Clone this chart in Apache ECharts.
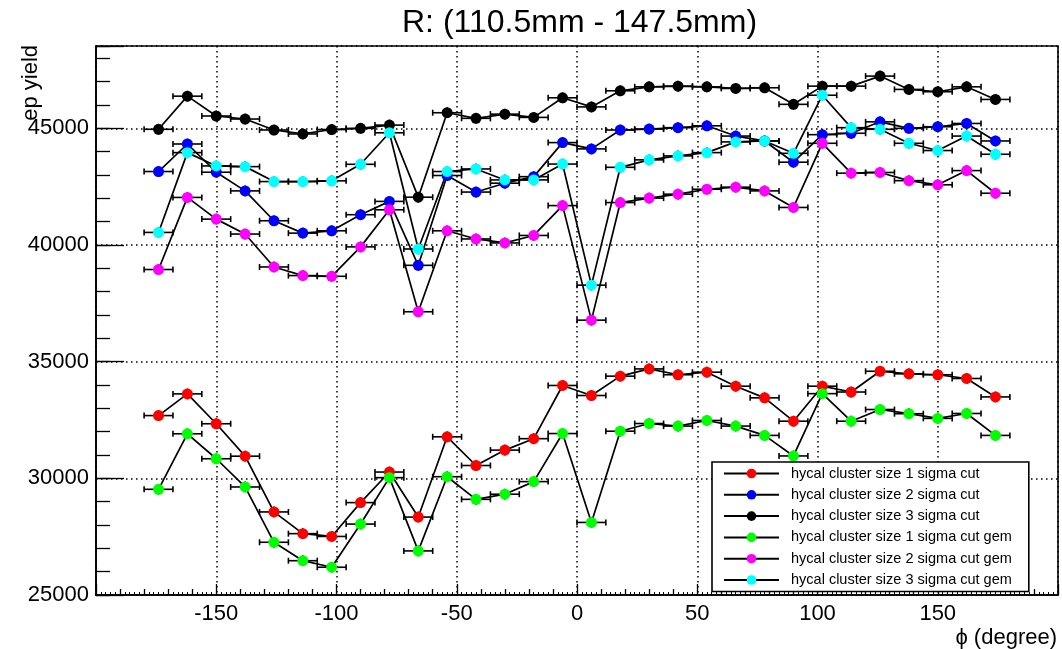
<!DOCTYPE html>
<html>
<head>
<meta charset="utf-8">
<title>ep yield vs phi</title>
<script src="https://cdn.jsdelivr.net/npm/echarts@6/dist/echarts.min.js"></script>
<style>
  html, body { margin: 0; padding: 0; background: #fff; }
  #chart { width: 1062px; height: 649px; }
</style>
</head>
<body>
<div id="chart"></div>
<script>
'use strict';

// bin centres in degrees (12 degree bins)
const phi = [-174, -162, -150, -138, -126, -114, -102, -90, -78, -66,
  -54, -42, -30, -18, -6, 6, 18, 30, 42, 54,
  66, 78, 90, 102, 114, 126, 138, 150, 162, 174];

const sizeOneCut = [32690, 33620, 32340, 30950, 28560, 27630, 27510, 28960, 30270, 28340,
  31780, 30550, 31210, 31700, 33980, 33550, 34380, 34690, 34440, 34550,
  33950, 33450, 32450, 33950, 33700, 34590, 34480, 34440, 34280, 33490];
const sizeTwoCut = [43150, 44330, 43120, 42320, 41040, 40510, 40610, 41300, 41870, 39130,
  42980, 42270, 42650, 42930, 44390, 44120, 44930, 44970, 45030, 45110,
  44670, 44460, 43550, 44730, 44790, 45280, 45000, 45070, 45210, 44460];
const sizeThreeCut = [44960, 46380, 45530, 45400, 44930, 44760, 44950, 45000, 45140, 42050,
  45670, 45430, 45610, 45470, 46310, 45920, 46610, 46780, 46810, 46780,
  46710, 46740, 46030, 46810, 46810, 47240, 46670, 46570, 46780, 46240];
const sizeOneGem = [29530, 31910, 30840, 29630, 27260, 26470, 26190, 28040, 30030, 26890,
  30070, 29100, 29320, 29860, 31920, 28110, 32020, 32350, 32240, 32480,
  32240, 31840, 30960, 33630, 32450, 32950, 32770, 32570, 32780, 31840];
const sizeTwoGem = [38950, 42040, 41110, 40470, 39060, 38690, 38660, 39920, 41510, 37140,
  40610, 40260, 40090, 40410, 41690, 36780, 41820, 42010, 42180, 42390,
  42480, 42320, 41610, 44360, 43080, 43110, 42760, 42580, 43190, 42220];
const sizeThreeGem = [40540, 43960, 43390, 43360, 42720, 42720, 42750, 43460, 44810, 39830,
  43150, 43260, 42790, 42790, 43470, 38280, 43330, 43650, 43820, 43960,
  44420, 44460, 43930, 46420, 45030, 44960, 44360, 44050, 44670, 43890];

const seriesNames = [
  'hycal cluster size 1 sigma cut',
  'hycal cluster size 2 sigma cut',
  'hycal cluster size 3 sigma cut',
  'hycal cluster size 1 sigma cut gem',
  'hycal cluster size 2 sigma cut gem',
  'hycal cluster size 3 sigma cut gem'
];
const seriesValues = [sizeOneCut, sizeTwoCut, sizeThreeCut, sizeOneGem, sizeTwoGem, sizeThreeGem];
const seriesColors = ['#ff0000', '#0000ff', '#000000', '#00ff00', '#ff00ff', '#00ffff'];

const xTickLabels = [-150, -100, -50, 0, 50, 100, 150];
const yTickLabels = [25000, 30000, 35000, 40000, 45000];

const binHalfWidth = 6;
const yError = 230;

const FONT = '"Liberation Sans", Arial, Helvetica, sans-serif';

function errorBars(points) {
  return {
    type: 'custom',
    xAxisIndex: 0,
    yAxisIndex: 0,
    silent: true,
    data: points,
    renderItem: function (params, api) {
      const x = api.value(0);
      const y = api.value(1);
      const left = api.coord([x - binHalfWidth, y]);
      const right = api.coord([x + binHalfWidth, y]);
      const top = api.coord([x, y + yError]);
      const bottom = api.coord([x, y - yError]);
      const style = { stroke: '#000', lineWidth: 1.6 };
      const cap = 3;
      return {
        type: 'group',
        children: [
          { type: 'line', shape: { x1: left[0], y1: left[1], x2: right[0], y2: right[1] }, style: style },
          { type: 'line', shape: { x1: left[0], y1: left[1] - cap, x2: left[0], y2: left[1] + cap }, style: style },
          { type: 'line', shape: { x1: right[0], y1: right[1] - cap, x2: right[0], y2: right[1] + cap }, style: style },
          { type: 'line', shape: { x1: top[0], y1: top[1], x2: bottom[0], y2: bottom[1] }, style: style }
        ]
      };
    }
  };
}

const series = [];
seriesValues.forEach(function (values, i) {
  const points = phi.map(function (p, k) { return [p, values[k]]; });
  series.push(errorBars(points));
  series.push({
    type: 'line',
    name: seriesNames[i],
    xAxisIndex: 0,
    yAxisIndex: 0,
    data: points,
    symbol: 'circle',
    symbolSize: 11,
    showAllSymbol: true,
    itemStyle: { color: seriesColors[i] },
    lineStyle: { color: '#000', width: 1.7 },
    emphasis: { disabled: true }
  });
});

const dotted = { color: '#000', width: 1.5, type: [1.5, 3.5] };

const option = {
  animation: false,
  backgroundColor: '#fff',
  textStyle: { fontFamily: FONT },
  title: {
    text: 'R: (110.5mm - 147.5mm)',
    left: 397,
    top: 2,
    textStyle: { fontFamily: FONT, fontSize: 32, fontWeight: 'normal', color: '#000' }
  },
  grid: {
    left: 96, right: 4, top: 46, bottom: 54,
    show: true, borderColor: '#000', borderWidth: 1.6, backgroundColor: 'transparent'
  },
  legend: {
    data: seriesNames,
    orient: 'vertical',
    left: 712,
    top: 462,
    padding: [4, 17, 4, 11],
    itemWidth: 55,
    itemHeight: 12,
    itemGap: 6.3,
    selectedMode: false,
    backgroundColor: '#fff',
    borderColor: '#000',
    borderWidth: 1.6,
    textStyle: { fontFamily: FONT, fontSize: 14.5, color: '#000', padding: [0, 0, 0, 7] }
  },
  xAxis: [
    {
      type: 'value', min: -200, max: 200, interval: 50,
      axisLine: { onZero: false, lineStyle: { color: '#000', width: 1.6 } },
      axisTick: { inside: true, length: 11, lineStyle: { color: '#000', width: 1.3 } },
      minorTick: { show: true, splitNumber: 5, length: 6, lineStyle: { color: '#000', width: 1.3 } },
      splitLine: { show: true, lineStyle: dotted },
      axisLabel: {
        margin: 8, color: '#000', fontFamily: FONT, fontSize: 22,
        formatter: function (v) { return xTickLabels.indexOf(v) >= 0 ? String(v) : ''; }
      }
    },
    {
      // finest tick marks every 2 degrees
      type: 'value', min: -200, max: 200, interval: 2, position: 'bottom',
      axisLine: { show: false, onZero: false },
      axisTick: { inside: true, length: 3, lineStyle: { color: '#000', width: 1 } },
      splitLine: { show: false },
      axisLabel: { show: false }
    }
  ],
  yAxis: [
    {
      type: 'value', min: 25000, max: 48530, interval: 5000,
      axisLine: { show: true, onZero: false, lineStyle: { color: '#000', width: 1.6 } },
      axisTick: { show: true, inside: true, length: 28, lineStyle: { color: '#000', width: 1.3 } },
      splitLine: { show: true, lineStyle: dotted },
      axisLabel: {
        margin: 7, color: '#000', fontFamily: FONT, fontSize: 22,
        formatter: function (v) { return yTickLabels.indexOf(v) >= 0 ? String(v) : ''; }
      }
    },
    {
      type: 'value', min: 25000, max: 48530, interval: 1000, position: 'left',
      axisLine: { show: false, onZero: false },
      axisTick: { show: true, inside: true, length: 14, lineStyle: { color: '#000', width: 1.3 } },
      splitLine: { show: false },
      axisLabel: { show: false }
    }
  ],
  graphic: [
    {
      type: 'text',
      x: 31, y: 45,
      rotation: Math.PI / 2,
      style: { text: 'ep yield', font: '22px ' + FONT, fill: '#000', align: 'right', verticalAlign: 'middle' }
    },
    {
      type: 'text',
      x: 1057, y: 638,
      style: { text: 'ϕ (degree)', font: '22px ' + FONT, fill: '#000', align: 'right', verticalAlign: 'middle' }
    }
  ],
  series: series
};

const chart = echarts.init(document.getElementById('chart'), null, { renderer: 'canvas' });
chart.setOption(option);
</script>
</body>
</html>
